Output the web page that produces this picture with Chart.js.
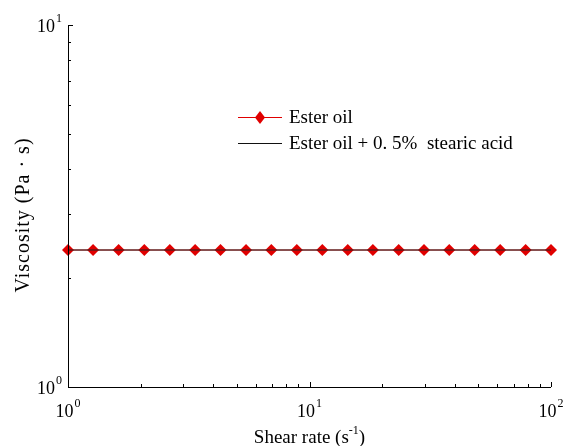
<!DOCTYPE html>
<html>
<head>
  <title>Viscosity vs Shear Rate</title>
  <script src="https://cdn.jsdelivr.net/npm/chart.js"></script>
  <style>
    html, body { margin: 0; padding: 0; background: #fff; }
    #wrap { width: 564px; height: 446px; }
  </style>
</head>
<body>
  <div id="wrap"><canvas id="viscChart"></canvas></div>

  <script>
    // shear rate (1/s) and measured viscosity (Pa·s)
    const shearRate = [1, 1.27, 1.62, 2.07, 2.64, 3.36, 4.28, 5.46, 6.95, 8.86,
                       11.3, 14.4, 18.3, 23.4, 29.8, 37.9, 48.3, 61.6, 78.5, 100];
    const esterOil = [2.39, 2.39, 2.39, 2.39, 2.39, 2.39, 2.39, 2.39, 2.39, 2.39,
                      2.39, 2.39, 2.39, 2.39, 2.39, 2.39, 2.39, 2.39, 2.39, 2.39];
    const esterOilStearic = [2.39, 2.39, 2.39, 2.39, 2.39, 2.39, 2.39, 2.39, 2.39, 2.39,
                             2.39, 2.39, 2.39, 2.39, 2.39, 2.39, 2.39, 2.39, 2.39, 2.39];
    const xTickExp = [0, 1, 2];
    const yTickExp = [0, 1];
    const seriesNames = ['Ester oil', 'Ester oil + 0. 5%  stearic acid'];

    const FONT = '"Liberation Serif", "Times New Roman", serif';
    const RED = '#e00000';

    function pts(ys) {
      return shearRate.map((x, i) => ({ x: x, y: ys[i] }));
    }

    // 10 with a raised exponent
    function drawPow(ctx, exp, x, y, align) {
      ctx.font = '18px ' + FONT;
      const baseW = ctx.measureText('10').width;
      ctx.font = '12px ' + FONT;
      const expW = ctx.measureText(String(exp)).width;
      const total = baseW + expW + 1;
      let left = x;
      if (align === 'center') left = x - total / 2;
      if (align === 'right') left = x - total;
      ctx.textAlign = 'left';
      ctx.textBaseline = 'alphabetic';
      ctx.font = '18px ' + FONT;
      ctx.fillText('10', left, y);
      ctx.font = '12px ' + FONT;
      ctx.fillText(String(exp), left + baseW + 1, y - 10);
    }

    const axesPlugin = {
      id: 'axesPlugin',
      afterDraw(chart) {
        const ctx = chart.ctx;
        const area = chart.chartArea;
        const xs = chart.scales.x;
        const ys = chart.scales.y;
        ctx.save();
        ctx.strokeStyle = '#000';
        ctx.fillStyle = '#000';
        ctx.lineWidth = 1;

        // axis lines
        ctx.beginPath();
        ctx.moveTo(Math.round(area.left) + 0.5, area.top);
        ctx.lineTo(Math.round(area.left) + 0.5, Math.round(area.bottom) + 0.5);
        ctx.lineTo(area.right, Math.round(area.bottom) + 0.5);
        ctx.stroke();

        // inward ticks, major and minor
        ctx.beginPath();
        for (let d = 0; d < 2; d++) {
          for (let m = 1; m <= 10; m++) {
            const v = Math.pow(10, d) * m;
            if (v > 100) continue;
            const px = Math.round(xs.getPixelForValue(v)) + 0.5;
            const len = (m === 1 || m === 10) ? 5 : 3;
            ctx.moveTo(px, area.bottom);
            ctx.lineTo(px, area.bottom - len);
          }
        }
        for (let m = 1; m <= 10; m++) {
          const py = Math.round(ys.getPixelForValue(m)) + 0.5;
          const len = (m === 1 || m === 10) ? 5 : 3;
          ctx.moveTo(area.left, py);
          ctx.lineTo(area.left + len, py);
        }
        ctx.stroke();

        // tick labels
        xTickExp.forEach(e => {
          drawPow(ctx, e, xs.getPixelForValue(Math.pow(10, e)), area.bottom + 30, 'center');
        });
        yTickExp.forEach(e => {
          drawPow(ctx, e, area.left - 6, ys.getPixelForValue(Math.pow(10, e)) + 7, 'right');
        });

        // axis titles
        ctx.font = '19px ' + FONT;
        ctx.textBaseline = 'alphabetic';
        const t1 = 'Shear rate (s';
        const w1 = ctx.measureText(t1).width;
        ctx.font = '12px ' + FONT;
        const w2 = ctx.measureText('-1').width;
        ctx.font = '19px ' + FONT;
        const w3 = ctx.measureText(')').width;
        let tx = (area.left + area.right) / 2 - (w1 + w2 + w3) / 2;
        const ty = 443;
        ctx.textAlign = 'left';
        ctx.fillText(t1, tx, ty);
        ctx.font = '12px ' + FONT;
        ctx.fillText('-1', tx + w1, ty - 9);
        ctx.font = '19px ' + FONT;
        ctx.fillText(')', tx + w1 + w2, ty);

        ctx.save();
        ctx.translate(29, 215);
        ctx.rotate(-Math.PI / 2);
        ctx.font = '20px ' + FONT;
        ctx.letterSpacing = '1px';
        ctx.textAlign = 'center';
        ctx.fillText('Viscosity (Pa \u00b7 s)', 0, 0);
        ctx.letterSpacing = '0px';
        ctx.restore();

        // legend
        const lx = 238, lw = 44;
        ctx.lineWidth = 1;
        ctx.strokeStyle = RED;
        ctx.beginPath();
        ctx.moveTo(lx, 117.5);
        ctx.lineTo(lx + lw, 117.5);
        ctx.stroke();
        ctx.fillStyle = RED;
        ctx.beginPath();
        ctx.moveTo(lx + lw / 2, 111);
        ctx.lineTo(lx + lw / 2 + 5, 117.5);
        ctx.lineTo(lx + lw / 2, 124);
        ctx.lineTo(lx + lw / 2 - 5, 117.5);
        ctx.closePath();
        ctx.fill();
        ctx.strokeStyle = '#111';
        ctx.beginPath();
        ctx.moveTo(lx, 143.5);
        ctx.lineTo(lx + lw, 143.5);
        ctx.stroke();
        ctx.fillStyle = '#000';
        ctx.font = '19px ' + FONT;
        ctx.textAlign = 'left';
        ctx.textBaseline = 'middle';
        ctx.fillText(seriesNames[0], 289, 118);
        ctx.fillText(seriesNames[1], 289, 144);

        ctx.restore();
      }
    };

    const ctx = document.getElementById('viscChart').getContext('2d');
    new Chart(ctx, {
      type: 'line',
      data: {
        datasets: [
          {
            label: seriesNames[1],
            data: pts(esterOilStearic),
            borderColor: '#222',
            borderWidth: 1.2,
            pointRadius: 0,
            fill: false,
            clip: false,
            order: 0
          },
          {
            label: seriesNames[0],
            data: pts(esterOil),
            borderColor: RED,
            backgroundColor: RED,
            borderWidth: 1,
            pointStyle: 'rectRot',
            pointRadius: 6,
            pointBorderWidth: 0,
            pointBackgroundColor: RED,
            fill: false,
            clip: false,
            order: 1
          }
        ]
      },
      options: {
        responsive: true,
        maintainAspectRatio: false,
        animation: false,
        layout: { padding: { left: 0, top: 25, right: 13, bottom: 0 } },
        plugins: { legend: { display: false }, tooltip: { enabled: false } },
        scales: {
          x: {
            type: 'logarithmic',
            min: 1, max: 100,
            grid: { display: false, drawTicks: false },
            border: { display: false },
            ticks: { display: false },
            afterFit(s) { s.height = 59; }
          },
          y: {
            type: 'logarithmic',
            min: 1, max: 10,
            grid: { display: false, drawTicks: false },
            border: { display: false },
            ticks: { display: false },
            afterFit(s) { s.width = 68; }
          }
        }
      },
      plugins: [axesPlugin]
    });
  </script>
</body>
</html>
